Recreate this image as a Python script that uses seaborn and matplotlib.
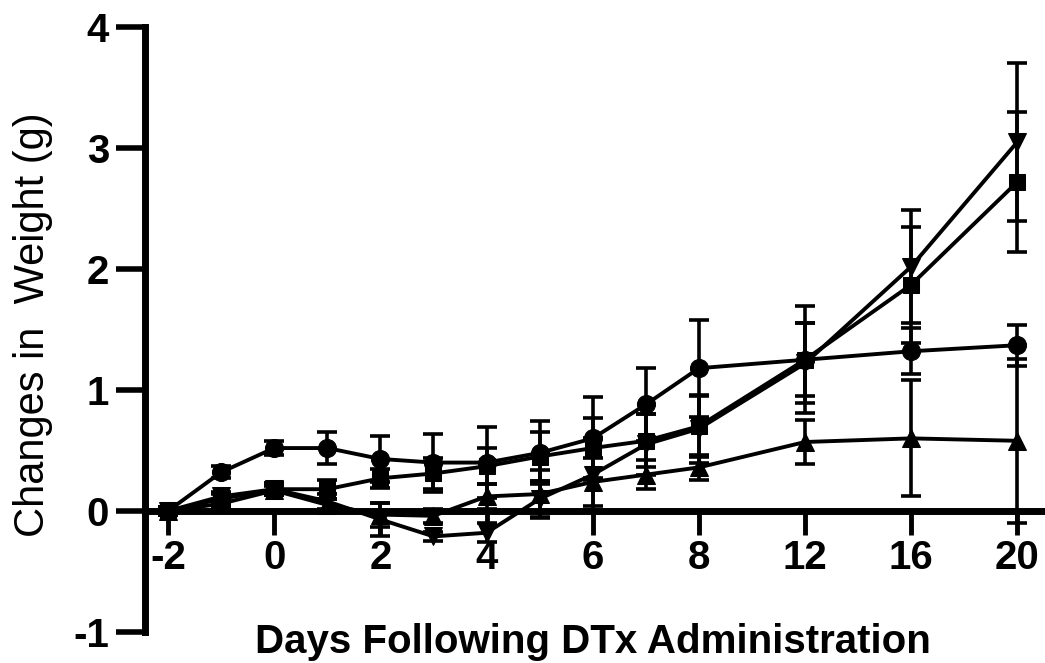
import numpy as np
import pandas as pd
import matplotlib
matplotlib.use("Agg")
import matplotlib.pyplot as plt
import seaborn as sns

# Days after DTx administration (mean change in body weight, g, with SEM)
days = [-2, -1, 0, 1, 2, 3, 4, 5, 6, 7, 8, 12, 16, 20]

circle_mean = [0.00, 0.32, 0.52, 0.52, 0.43, 0.40, 0.40, 0.48, 0.60, 0.88, 1.18, 1.25, 1.32, 1.37]
circle_err = [0.03, 0.05, 0.06, 0.13, 0.19, 0.24, 0.29, 0.26, 0.34, 0.30, 0.40, 0.44, 0.19, 0.17]

square_mean = [0.00, 0.10, 0.18, 0.18, 0.27, 0.31, 0.37, 0.45, 0.52, 0.58, 0.70, 1.25, 1.87, 2.72]
square_err = [0.03, 0.04, 0.05, 0.08, 0.08, 0.13, 0.15, 0.20, 0.25, 0.22, 0.25, 0.30, 0.48, 0.58]

down_mean = [0.00, 0.12, 0.18, 0.08, -0.07, -0.21, -0.18, 0.10, 0.30, 0.55, 0.68, 1.22, 2.02, 3.05]
down_err = [0.03, 0.04, 0.05, 0.06, 0.14, 0.04, 0.08, 0.15, 0.30, 0.25, 0.28, 0.33, 0.47, 0.65]

up_mean = [0.00, 0.06, 0.17, 0.05, -0.03, -0.04, 0.12, 0.14, 0.24, 0.30, 0.36, 0.57, 0.60, 0.58]
up_err = [0.03, 0.03, 0.04, 0.05, 0.10, 0.06, 0.10, 0.20, 0.20, 0.12, 0.10, 0.18, 0.48, 0.68]

x_ticks = [-2, 0, 2, 4, 6, 8, 12, 16, 20]
y_ticks = [-1, 0, 1, 2, 3, 4]

groups = {
    "circle": (circle_mean, circle_err, "o", 13),
    "square": (square_mean, square_err, "s", 12),
    "down": (down_mean, down_err, "v", 13),
    "up": (up_mean, up_err, "^", 13),
}

df = pd.concat(
    [pd.DataFrame({"day": days, "change": m, "group": g}) for g, (m, e, mk, ms) in groups.items()],
    ignore_index=True,
)

sns.set_theme(style="ticks")
plt.rcParams["font.family"] = ["Liberation Sans", "DejaVu Sans"]
plt.rcParams.update({
    "text.color": "black",
    "axes.labelcolor": "black",
    "axes.edgecolor": "black",
    "xtick.color": "black",
    "ytick.color": "black",
})

fig = plt.figure(figsize=(10.45, 6.63), dpi=100)
ax = fig.add_axes([0.1388, 0.0468, 0.8612, 0.9125])

# Days after day 8 are sampled every 4 days; compress that part of the axis
def fwd(x):
    x = np.asarray(x, dtype=float)
    return np.where(x <= 8, x, 8 + (x - 8) / 2)

def inv(s):
    s = np.asarray(s, dtype=float)
    return np.where(s <= 8, s, 8 + (s - 8) * 2)

ax.set_xscale("function", functions=(fwd, inv))

for g, (m, e, mk, ms) in groups.items():
    ax.errorbar(days, m, yerr=e, fmt="none", ecolor="black",
                elinewidth=2.6, capsize=7, capthick=2.6, zorder=2)

for g, (m, e, mk, ms) in groups.items():
    sns.lineplot(data=df[df["group"] == g], x="day", y="change",
                 marker=mk, markersize=ms, color="black",
                 markeredgecolor="black", linewidth=2.8,
                 errorbar=None, legend=False, ax=ax, zorder=3)

ax.set_xlim(-2.433, 21.04)
ax.set_ylim(-1, 4)
ax.set_xticks(x_ticks)
ax.set_xticklabels([str(t) for t in x_ticks])
ax.set_yticks(y_ticks)
ax.set_yticklabels([str(t) for t in y_ticks])

for side in ("top", "right"):
    ax.spines[side].set_visible(False)
ax.spines["bottom"].set_position(("data", 0))
ax.spines["bottom"].set_linewidth(5)
ax.spines["left"].set_linewidth(5)

ax.tick_params(axis="x", direction="out", length=17, width=3.5, pad=3,
               labelsize=29)
ax.tick_params(axis="y", direction="out", length=21, width=4, pad=5,
               labelsize=29)
for lab in ax.get_xticklabels() + ax.get_yticklabels():
    lab.set_fontweight("bold")

ax.set_xlabel("")
ax.set_ylabel("")
fig.text(0.567, 0.0151, "Days Following DTx Administration",
         ha="center", va="baseline", fontsize=29, fontweight="bold")
fig.text(0.032, 0.51, "Changes in  Weight (g)", ha="center", va="center",
         rotation=90, fontsize=30)

fig.savefig("out.png", dpi=100)
